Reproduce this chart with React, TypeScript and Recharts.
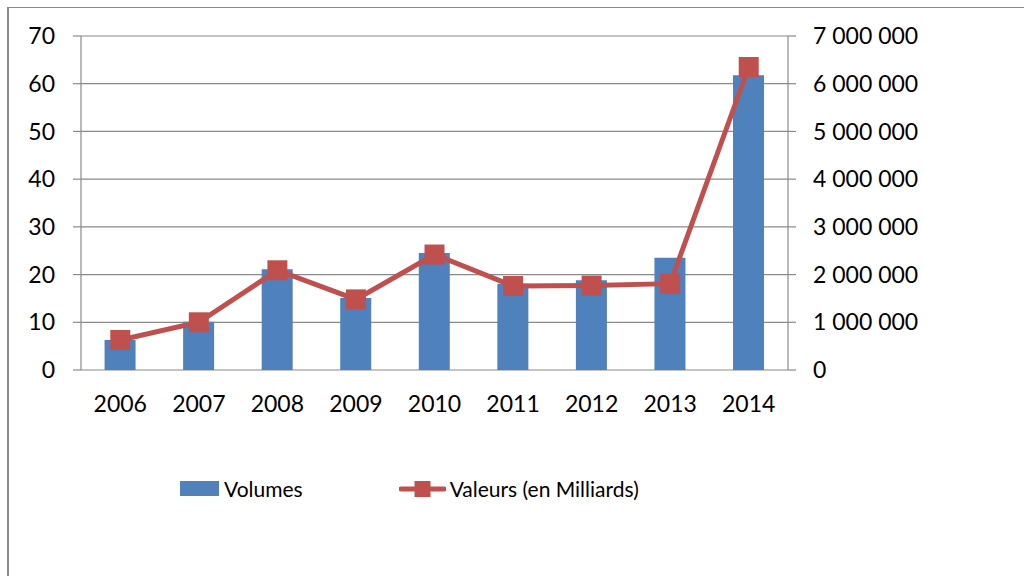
import React from "react";
import {
  ComposedChart,
  Bar,
  Line,
  XAxis,
  YAxis,
  CartesianGrid,
} from "recharts";

const YEARS = ["2006", "2007", "2008", "2009", "2010", "2011", "2012", "2013", "2014"];
const VOLUMES = [6.3, 10.1, 21.1, 15.1, 24.5, 18.1, 18.8, 23.5, 61.8];
const VALEURS = [630000, 1000000, 2090000, 1480000, 2420000, 1760000, 1770000, 1810000, 6350000];
const LEFT_TICKS = [0, 10, 20, 30, 40, 50, 60, 70];
const RIGHT_TICKS = [0, 1000000, 2000000, 3000000, 4000000, 5000000, 6000000, 7000000];
const BOUNDARY_TICKS = [0, 1, 2, 3, 4, 5, 6, 7, 8, 9];

const BLUE = "#4F81BD";
const RED = "#C0504D";
const GRAY = "#8a8a8a";
const FONT = "Lato, 'Open Sans', sans-serif";

const data = YEARS.map((year, i) => ({
  year,
  volumes: VOLUMES[i],
  valeurs: VALEURS[i],
}));

function formatSpaces(v: number): string {
  return String(v).replace(/\B(?=(\d{3})+(?!\d))/g, " ");
}

function SquareDot(props: { cx?: number; cy?: number }) {
  const { cx, cy } = props;
  if (cx == null || cy == null) return null;
  return <rect x={cx - 10} y={cy - 10} width={20} height={20} fill={RED} />;
}

const tickStyle = { fontSize: 23, fill: "#000", fontFamily: FONT };

export default function App() {
  return (
    <div
      style={{
        position: "absolute",
        left: 7,
        top: 7,
        width: 1017,
        height: 569,
        borderLeft: `2px solid ${GRAY}`,
        borderTop: `1px solid ${GRAY}`,
        fontFamily: FONT,
        background: "#fff",
      }}
    >
      <ComposedChart
        width={1015}
        height={568}
        data={data}
        barCategoryGap="30%"
        margin={{ top: 28, right: 96, bottom: 146, left: 0 }}
      >
        <CartesianGrid vertical={false} stroke={GRAY} strokeWidth={1.2} yAxisId="left" />
        <XAxis
          xAxisId="grid"
          type="number"
          domain={[0, 9]}
          ticks={BOUNDARY_TICKS}
          interval={0}
          height={0}
          tick={false}
          tickSize={8}
          tickLine={{ stroke: GRAY, strokeWidth: 1.2 }}
          axisLine={{ stroke: GRAY, strokeWidth: 1.2 }}
        />
        <XAxis
          dataKey="year"
          height={60}
          tickLine={false}
          axisLine={false}
          tickSize={0}
          tickMargin={26}
          tick={tickStyle}
          interval={0}
        />
        <YAxis
          yAxisId="left"
          domain={[0, 70]}
          ticks={LEFT_TICKS}
          width={72}
          tickSize={8}
          tickMargin={18}
          tick={tickStyle}
          tickLine={{ stroke: GRAY, strokeWidth: 1.2 }}
          axisLine={{ stroke: GRAY, strokeWidth: 1.2 }}
        />
        <YAxis
          yAxisId="right"
          orientation="right"
          domain={[0, 7000000]}
          ticks={RIGHT_TICKS}
          width={140}
          tickSize={8}
          tickMargin={17}
          tick={tickStyle}
          tickFormatter={formatSpaces}
          tickLine={{ stroke: GRAY, strokeWidth: 1.2 }}
          axisLine={{ stroke: GRAY, strokeWidth: 1.2 }}
        />
        <Bar
          yAxisId="left"
          dataKey="volumes"
          name="Volumes"
          fill={BLUE}
          isAnimationActive={false}
        />
        <Line
          yAxisId="right"
          dataKey="valeurs"
          name="Valeurs (en Milliards)"
          type="linear"
          stroke={RED}
          strokeWidth={5}
          dot={<SquareDot />}
          activeDot={false}
          isAnimationActive={false}
        />
      </ComposedChart>

      {/* légende */}
      <div
        style={{
          position: "absolute",
          left: 171,
          top: 468,
          display: "flex",
          alignItems: "center",
          fontSize: 21,
          color: "#000",
          whiteSpace: "nowrap",
        }}
      >
        <span style={{ width: 39, height: 15, background: BLUE, display: "inline-block" }} />
        <span style={{ marginLeft: 5 }}>Volumes</span>
        <svg width={47} height={20} style={{ marginLeft: 96 }}>
          <line x1={2} y1={10} x2={45} y2={10} stroke={RED} strokeWidth={5} strokeLinecap="round" />
          <rect x={15.5} y={2} width={16} height={16} fill={RED} />
        </svg>
        <span style={{ marginLeft: 4 }}>Valeurs (en Milliards)</span>
      </div>
    </div>
  );
}
